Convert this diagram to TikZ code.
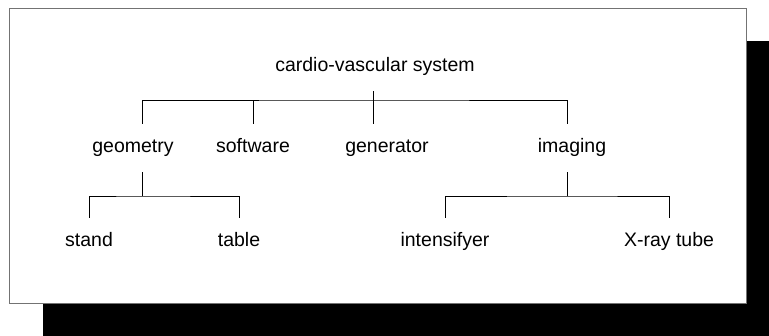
\documentclass[tikz,border=0pt]{standalone}
\usepackage{fontspec}
\setmainfont{Liberation Sans}
\tikzset{
    part/.style={inner xsep=2pt,inner ysep=15pt,text height=14pt,text depth=4pt,font=\fontsize{19.5}{22}\selectfont},
    link/.style={draw=black,line width=0.9pt},
    frame/.style={draw=black!55,line width=0.8pt,fill=white},
    shadow/.style={fill=black}
}
\begin{document}
\begin{tikzpicture}[x=1pt,y=-1pt]
  \useasboundingbox (0,0) rectangle (769,336);
  \fill[shadow] (43,41) rectangle (769,336);
  \draw[frame] (9,8) rectangle (746,303);

  \node[part] (cvs)   at (375,67)  {cardio-vascular system};
  \node[part] (geo)   at (133,148) {geometry};
  \node[part] (sw)    at (253,148) {software};
  \node[part] (gen)   at (387,148) {generator};
  \node[part] (img)   at (572,148) {imaging};
  \node[part] (stand) at (89,242)  {stand};
  \node[part] (table) at (239,242) {table};
  \node[part] (ints)  at (445,242) {intensifyer};
  \node[part] (xray)  at (669,242) {X-ray tube};

  \coordinate (bar)  at (373,100);
  \coordinate (gbar) at (142,196);
  \coordinate (ibar) at (567,196);

  \draw[link] (bar |- cvs.south) -- (bar |- gen.north);
  \draw[link] (gbar |- geo.north) |- (bar) -| (ibar |- img.north);
  \draw[link] (sw.north) -- (sw.north |- bar);

  \draw[link] (gbar |- geo.south) -- (gbar);
  \draw[link] (stand.north) |- (gbar) -| (table.north);
  \draw[link] (ibar |- img.south) -- (ibar);
  \draw[link] (ints.north) |- (ibar) -| (xray.north);
\end{tikzpicture}
\end{document}
